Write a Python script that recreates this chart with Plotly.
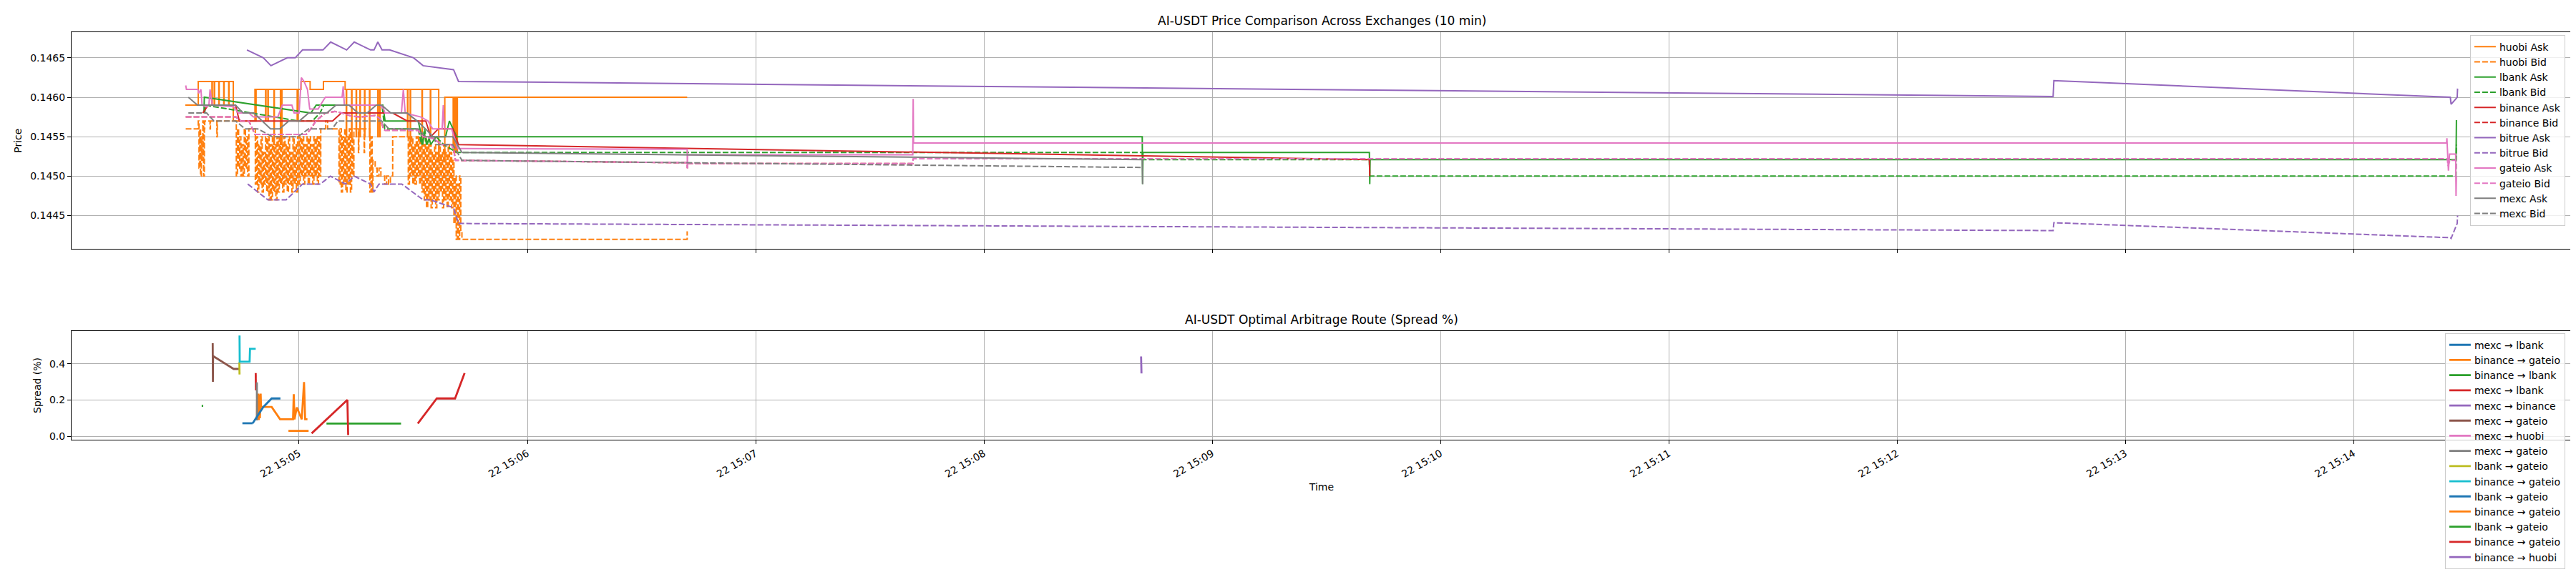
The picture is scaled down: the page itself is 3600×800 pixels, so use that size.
import pandas as pd
import plotly.graph_objects as go

BASE = pd.Timestamp("2025-06-22 15:05:00")

# ---------------- price data (seconds relative to 15:05:00, price) ----------------
huobi_ask_t = [-29.9, -26.6, -26.5, -23.0, -22.9, -22.8, -22.4, -22.3, -22.2, -21.2, -21.1, -21.0,
               -19.9, -19.8, -19.7, -18.6, -18.5, -18.4, -17.5, -17.3, -11.7, -11.6, -11.4, -11.3,
               -8.9, -8.8, -8.7, -8.3, -8.2, -8.1, -6.7, -6.6, -6.5, -5.0, -4.9, -4.8, -4.6, -4.5,
               -0.6, -0.5, -0.3, 0.4, 0.5, 2.8, 2.9, 6.3, 6.4, 12.0, 12.1,
               12.3, 12.4, 12.5, 13.7, 13.8, 13.9, 14.9, 15.0, 15.1, 15.9, 16.0, 16.1, 17.1, 17.2, 17.3,
               18.4, 18.5, 18.6, 20.6, 20.7, 20.8, 21.1, 21.2, 21.3, 28.4, 28.5, 28.6, 29.1, 29.2, 29.3,
               32.2, 32.3, 32.4, 34.4, 34.5, 34.6, 36.6, 36.7, 38.2, 38.3,
               40.4, 40.5, 40.6, 40.7, 40.8, 40.9, 41.0, 41.1, 41.2, 41.3, 41.4, 41.5, 41.6, 41.7, 102.0]
huobi_ask_p = [0.1459, 0.1459, 0.1462, 0.1462, 0.1459, 0.1462, 0.1462, 0.1459, 0.1462, 0.1462, 0.1459, 0.1462,
               0.1462, 0.1459, 0.1462, 0.1462, 0.1459, 0.1462, 0.1462, 0.1457, 0.1457, 0.1461, 0.1457, 0.1461,
               0.1461, 0.1457, 0.1461, 0.1461, 0.1457, 0.1461, 0.1461, 0.1454, 0.1461, 0.1461, 0.1454, 0.1461, 0.1454, 0.1461,
               0.1461, 0.1457, 0.1461, 0.1461, 0.1462, 0.1462, 0.1461, 0.1461, 0.1462, 0.1462, 0.1461,
               0.1461, 0.1455, 0.1461, 0.1461, 0.1455, 0.1461, 0.1461, 0.1455, 0.1461, 0.1461, 0.1455, 0.1461, 0.1461, 0.1455, 0.1461,
               0.1461, 0.1455, 0.1461, 0.1461, 0.1455, 0.1461, 0.1461, 0.1455, 0.1461, 0.1461, 0.1455, 0.1461, 0.1461, 0.1454, 0.1461,
               0.1461, 0.1455, 0.1461, 0.1461, 0.1455, 0.1461, 0.1461, 0.1452, 0.1452, 0.1460,
               0.1460, 0.1454, 0.1460, 0.1453, 0.1460, 0.1454, 0.1460, 0.1453, 0.1460, 0.1454, 0.1460, 0.1453, 0.1460, 0.1460, 0.1460]

huobi_bid_t = [-29.8, -26.6, -26.5, -26.3, -26.1, -25.9, -25.7, -25.5, -25.3, -25.1, -24.9, -24.8,
               -23.5, -23.4, -23.3, -21.7, -21.6, -21.5, -16.7,
               -16.5, -16.2, -15.9, -15.6, -15.3, -15.0, -14.7, -14.4, -14.1, -13.8, -13.5, -13.2, -11.7,
               -11.5, -11.2, -10.9, -10.6, -10.3, -10.0, -9.7, -9.4, -9.1, -8.8, -8.5, -8.2, -7.9, -7.6,
               -7.3, -7.0, -6.7, -6.4, -6.1, -5.8, -5.5, -5.2, -4.9, -4.6, -4.3, -4.0, -3.7, -3.4, -3.1,
               -2.8, -2.5, -2.2, -1.9, -1.6, -1.3, -1.0, -0.7, -0.4,
               0.0, 0.3, 0.6, 0.9, 1.2, 1.5, 1.8, 2.1, 2.4, 2.7, 3.0, 3.3, 3.6, 3.9, 4.2, 4.5, 4.8, 5.1, 5.4, 5.7,
               7.0, 7.5, 10.2,
               10.5, 10.8, 11.1, 11.4, 11.7, 12.0, 12.3, 12.6, 12.9, 13.2, 13.5, 13.8, 14.1, 14.4,
               15.5, 15.6, 15.7, 17.0, 17.1, 17.2, 18.4, 18.6, 18.9, 19.2, 19.4,
               20.0, 20.5, 21.0, 21.5, 22.0, 22.5, 23.0, 23.5, 24.0, 24.4, 24.6, 28.4,
               28.7, 29.0, 29.3, 29.6, 29.9, 30.2, 30.5, 30.8, 31.1, 31.4, 31.7, 32.0, 32.3, 32.6, 32.9, 33.2, 33.5, 33.8,
               34.1, 34.4, 34.7, 35.0, 35.3, 35.6, 35.9, 36.2, 36.5, 36.8, 37.1, 37.4, 37.7, 38.0, 38.3, 38.6,
               38.9, 39.2, 39.5, 39.8, 40.1, 40.4,
               40.7, 41.0, 41.3, 41.6, 41.9, 42.2, 42.5, 42.8, 43.3, 101.8, 102.0]
huobi_bid_p = [0.1456, 0.1456, 0.1457, 0.1451, 0.1456, 0.1450, 0.1455, 0.1452, 0.1457, 0.1450, 0.1456, 0.1457,
               0.1457, 0.1456, 0.1457, 0.1457, 0.1455, 0.1457, 0.1457,
               0.1450, 0.1456, 0.1451, 0.1455, 0.1450, 0.1454, 0.1450, 0.1456, 0.1451, 0.1455, 0.1450, 0.1456, 0.1456,
               0.1449, 0.1455, 0.1448, 0.1454, 0.1449, 0.1455, 0.1448, 0.1453, 0.1449, 0.1455, 0.1448, 0.1455, 0.1447, 0.1454,
               0.1447, 0.1455, 0.1448, 0.1454, 0.1447, 0.1455, 0.1448, 0.1455, 0.1449, 0.1454, 0.1448, 0.1455, 0.1449, 0.1454, 0.1448,
               0.1455, 0.1449, 0.1453, 0.1448, 0.1455, 0.1449, 0.1454, 0.1448, 0.1455,
               0.1449, 0.1455, 0.1450, 0.1455, 0.1449, 0.1454, 0.1450, 0.1455, 0.1449, 0.1455, 0.1450, 0.1454, 0.1449, 0.1455, 0.1450, 0.1455, 0.1449, 0.1455, 0.1450, 0.1456,
               0.1457, 0.1456, 0.1456,
               0.1449, 0.1456, 0.1448, 0.1455, 0.1449, 0.1456, 0.1448, 0.1455, 0.1449, 0.1456, 0.1448, 0.1455, 0.1450, 0.1456,
               0.1456, 0.1453, 0.1456, 0.1456, 0.1453, 0.1456, 0.1456, 0.1448, 0.1455, 0.1448, 0.1452,
               0.1451, 0.1450, 0.1451, 0.1450, 0.1450, 0.1449, 0.1450, 0.1449, 0.1450, 0.1450, 0.1455, 0.1455,
               0.1449, 0.1455, 0.1450, 0.1455, 0.1449, 0.1454, 0.1449, 0.1455, 0.1450, 0.1455, 0.1449, 0.1455, 0.1448, 0.1454, 0.1447, 0.1455, 0.1446, 0.1454,
               0.1447, 0.1454, 0.1446, 0.1453, 0.1447, 0.1454, 0.1446, 0.1453, 0.1447, 0.1454, 0.1448, 0.1453, 0.1446, 0.1454, 0.1447, 0.1453,
               0.1446, 0.1454, 0.1447, 0.1453, 0.1446, 0.1452,
               0.1444, 0.1450, 0.1442, 0.1449, 0.1442, 0.1450, 0.1443, 0.1442, 0.1442, 0.1442, 0.1443]

lbank_ask_t = [-25.0, -24.9, 3.1, 4.5, 22.0, 22.6, 31.3, 32.0, 32.5, 32.9, 33.5, 34.2, 34.6, 36.0, 38.5, 39.5, 41.4,
               221.6, 221.7, 221.8, 281.3, 281.4, 281.5, 566.4, 566.9, 567.0]
lbank_ask_p = [0.1458, 0.1460, 0.1458, 0.1459, 0.1459, 0.1457, 0.1457, 0.14555, 0.1454, 0.14555, 0.1454, 0.14548, 0.1454,
               0.1455, 0.1455, 0.1457, 0.1455,
               0.1455, 0.1449, 0.1453, 0.1453, 0.1449, 0.14521, 0.14521, 0.14521, 0.14571]
lbank_bid_t = [-24.8, -24.6, -0.3, 3.5, 5.5, 6.5, 21.8, 22.5, 31.3, 32.2, 33.0, 33.6, 34.5, 36.0, 38.0, 41.5,
               221.6, 221.7, 281.3, 281.4, 566.4, 566.9, 567.0]
lbank_bid_p = [0.1458, 0.1459, 0.1457, 0.1457, 0.1458, 0.1459, 0.1459, 0.1456, 0.1456, 0.1454, 0.1456, 0.1454, 0.1455,
               0.1455, 0.1454, 0.1453,
               0.1453, 0.14521, 0.14521, 0.1450, 0.1450, 0.1450, 0.1454]

binance_ask_t = [-25.3, -23.9, -16.7, -15.7, 8.8, 11.1, 24.6, 28.4, 33.3, 34.6, 36.6, 40.4, 41.9, 281.3, 281.4]
binance_ask_p = [0.1458, 0.1459, 0.1459, 0.1457, 0.1457, 0.1458, 0.1458, 0.1457, 0.1457, 0.1455, 0.1456, 0.1456,
                 0.1454, 0.14521, 0.1450]

gateio_ask_t = [-29.8, -29.6, -26.6, -26.4, -25.8, -25.5, -24.3, -23.7, -23.4, -22.8, -17.2, -16.0, -13.2, -12.0,
                -5.6, -4.4, -1.9, -1.3, 0.0, 0.6, 1.3, 2.2, 2.8, 5.0, 5.6, 6.9, 10.3, 11.3, 11.6, 11.9,
                21.3, 22.2, 22.6, 26.9, 27.4, 27.9, 32.0, 33.9, 35.1, 37.6, 37.9, 38.2, 40.1, 40.7, 41.7, 43.0,
                102.0, 102.05, 102.1, 161.3, 161.4, 161.5, 564.4, 564.5, 564.9, 565.2, 566.8, 566.9, 567.0]
gateio_ask_p = [0.14615, 0.1461, 0.1461, 0.14605, 0.1461, 0.1459, 0.14588, 0.1459, 0.1461, 0.1459, 0.14588, 0.1458,
                0.1458, 0.14575, 0.14575, 0.1459, 0.1459, 0.1458, 0.1458, 0.14625, 0.1462, 0.1461, 0.14585, 0.14585,
                0.1459, 0.1460, 0.1460, 0.1460, 0.14614, 0.1459, 0.1459, 0.14585, 0.1458, 0.1458, 0.1461, 0.1458,
                0.14575, 0.1457, 0.1456, 0.1456, 0.1459, 0.1456, 0.1456, 0.1455, 0.14535, 0.14535,
                0.14534, 0.1451, 0.14527, 0.14527, 0.14598, 0.14542, 0.14542, 0.14548, 0.14507, 0.14528, 0.14528,
                0.14475, 0.1450]
gateio_bid_t = [-29.8, -16.6, -15.3, -13.2, -11.6, 1.9, 3.1, 4.4, 6.9, 9.4, 11.3, 12.5, 13.8, 16.3, 20.0, 21.3,
                22.2, 22.6, 28.2, 31.3, 32.6, 35.1, 37.6, 40.1, 40.7, 41.1, 102.0, 102.05, 102.1, 161.3, 161.4,
                564.6, 564.8, 565.3, 566.8, 567.0]
gateio_bid_p = [0.14575, 0.14575, 0.1457, 0.1457, 0.14553, 0.14553, 0.1456, 0.1457, 0.1458, 0.14582, 0.1458,
                0.14578, 0.14576, 0.14575, 0.14577, 0.14573, 0.1456, 0.14558, 0.14558, 0.14558, 0.1455, 0.14548,
                0.1454, 0.1454, 0.14532, 0.1452, 0.14517, 0.1451, 0.14516, 0.14516, 0.14522,
                0.14522, 0.14513, 0.1452, 0.1452, 0.1451]

# binance bid runs underneath the gateio bid line (not visible separately)
binance_bid_t = gateio_bid_t[:31]
binance_bid_p = gateio_bid_p[:31]

bitrue_ask_t = [-13.7, -9.4, -7.4, -3.1, -1.0, 0.9, 6.3, 8.3, 12.5, 14.5, 18.8, 19.7, 20.7, 21.8, 23.8, 30.1,
                32.6, 40.6, 41.9, 461.0, 461.2, 565.4, 565.6, 567.2, 567.3]
bitrue_ask_p = [0.1466, 0.1465, 0.1464, 0.1465, 0.1465, 0.1466, 0.1466, 0.1467, 0.1466, 0.1467, 0.1466, 0.1466,
                0.1467, 0.1466, 0.1466, 0.1465, 0.1464, 0.14635, 0.1462, 0.14601, 0.14621, 0.1460, 0.14591,
                0.1460, 0.14611]
bitrue_bid_t = [-13.5, -8.2, -3.4, 0.9, 5.6, 8.2, 12.2, 14.5, 18.8, 19.7, 21.0, 23.8, 27.0, 32.6, 34.5, 40.6,
                41.9, 461.0, 461.2, 565.4, 565.6, 567.2, 567.3]
bitrue_bid_p = [0.1449, 0.1447, 0.1447, 0.1449, 0.1449, 0.1450, 0.1449, 0.1450, 0.1449, 0.1448, 0.1449, 0.1449,
                0.1449, 0.1447, 0.1447, 0.1446, 0.1444, 0.14431, 0.14441, 0.14422, 0.14421, 0.1444, 0.1445]

mexc_ask_t = [-29.1, -26.7, -16.7, -14.7, -11.9, -7.5, -5.1, -2.7, 0.1, 2.5, 7.3, 9.7, 13.1, 15.5, 17.9, 20.3,
              21.7, 24.1, 28.4, 31.0, 33.2, 35.2, 40.4, 42.8, 221.6, 221.7]
mexc_ask_p = [0.1460, 0.1459, 0.1459, 0.1458, 0.1458, 0.1456, 0.1456, 0.1457, 0.1457, 0.1458, 0.1458, 0.1459,
              0.1459, 0.1458, 0.1458, 0.1459, 0.1459, 0.1458, 0.1458, 0.1457, 0.1456, 0.1455, 0.1455, 0.1453,
              0.14521, 0.1449]
mexc_bid_t = [-29.1, -24.3, -22.4, -16.7, -14.2, -10.9, -7.0, -0.3, 2.5, 8.7, 10.2, 21.7, 23.6, 31.3, 33.2,
              35.5, 36.0, 40.4, 42.8, 221.6]
mexc_bid_p = [0.1458, 0.1458, 0.1457, 0.1457, 0.1456, 0.1456, 0.1455, 0.1455, 0.1456, 0.1456, 0.1457, 0.1457,
              0.1456, 0.1456, 0.1455, 0.1455, 0.1454, 0.1454, 0.1452, 0.14511]

# (name, times, prices, colour, dash, line shape)
price_series = [
    ("huobi Ask", huobi_ask_t, huobi_ask_p, "#ff7f0e", "solid", "hv"),
    ("huobi Bid", huobi_bid_t, huobi_bid_p, "#ff7f0e", "dash", "hv"),
    ("lbank Ask", lbank_ask_t, lbank_ask_p, "#2ca02c", "solid", "linear"),
    ("lbank Bid", lbank_bid_t, lbank_bid_p, "#2ca02c", "dash", "linear"),
    ("binance Ask", binance_ask_t, binance_ask_p, "#d62728", "solid", "linear"),
    ("binance Bid", binance_bid_t, binance_bid_p, "#d62728", "dash", "linear"),
    ("bitrue Ask", bitrue_ask_t, bitrue_ask_p, "#9467bd", "solid", "linear"),
    ("bitrue Bid", bitrue_bid_t, bitrue_bid_p, "#9467bd", "dash", "linear"),
    ("gateio Ask", gateio_ask_t, gateio_ask_p, "#e377c2", "solid", "linear"),
    ("gateio Bid", gateio_bid_t, gateio_bid_p, "#e377c2", "dash", "linear"),
    ("mexc Ask", mexc_ask_t, mexc_ask_p, "#7f7f7f", "solid", "linear"),
    ("mexc Bid", mexc_bid_t, mexc_bid_p, "#7f7f7f", "dash", "linear"),
]

# ---------------- spread data (seconds, spread %) ----------------
route_names = ["mexc → lbank", "binance → gateio", "binance → lbank", "mexc → lbank", "mexc → binance",
               "mexc → gateio", "mexc → huobi", "mexc → gateio", "lbank → gateio", "binance → gateio",
               "lbank → gateio", "binance → gateio", "lbank → gateio", "binance → gateio", "binance → huobi"]
route_t = [
    [-14.9, -12.2],
    [-11.1, -11.0, -10.9, -10.7, -10.6, -10.4, -10.3, -10.1, -10.0, -7.2, -5.0, -1.6, -1.4, -1.2, -0.6, 0.7,
     1.3, 1.6, 2.2],
    [-25.6, -25.2],
    [-11.4, -11.35, None, 31.2, 36.2, 41.0, 43.5],
    [221.3, 221.4],
    [-22.7, -22.65, -22.6, -17.2, -15.8],
    [-11.1],
    [-11.1, -11.05],
    [-15.7, -15.65],
    [-15.65, -15.6, -13.0, -12.9, -11.4],
    [-12.2, -11.3, -9.4, -7.2, -4.9],
    [-2.8, 2.5],
    [7.2, 26.8],
    [3.3, 12.7, 12.9],
    [0.0],
]
route_v = [
    [0.072, 0.072],
    [0.09, 0.236, 0.09, 0.236, 0.09, 0.23, 0.10, 0.236, 0.162, 0.162, 0.094, 0.094, 0.233, 0.094, 0.16, 0.094,
     0.30, 0.094, 0.094],
    [0.168, 0.168],
    [0.349, 0.254, None, 0.07, 0.209, 0.209, 0.349],
    [0.441, 0.347],
    [0.514, 0.301, 0.443, 0.372, 0.372],
    [0.2],
    [0.298, 0.088],
    [0.409, 0.341],
    [0.557, 0.412, 0.412, 0.483, 0.483],
    [0.072, 0.10, 0.162, 0.209, 0.209],
    [0.03, 0.03],
    [0.07, 0.07],
    [0.016, 0.201, 0.007],
    [0.1],
]
route_colors = ["#1f77b4", "#ff7f0e", "#2ca02c", "#d62728", "#9467bd", "#8c564b", "#e377c2", "#7f7f7f",
                "#bcbd22", "#17becf", "#1f77b4", "#ff7f0e", "#2ca02c", "#d62728", "#9467bd"]

price_ticks = [0.1445, 0.1450, 0.1455, 0.1460, 0.1465]
spread_ticks = [0.0, 0.2, 0.4]


def to_time(secs):
    return [None if s is None else BASE + pd.Timedelta(seconds=s) for s in secs]


fig = go.Figure()
for name, t, p, color, dash, shape in price_series:
    fig.add_trace(go.Scatter(
        x=to_time(t), y=p, mode="lines", name=name,
        line=dict(color=color, width=2, shape=shape,
                  dash="solid" if dash == "solid" else "8px,3px"),
        xaxis="x", yaxis="y", legend="legend", connectgaps=False))

for name, t, v, color in zip(route_names, route_t, route_v, route_colors):
    fig.add_trace(go.Scatter(
        x=to_time(t), y=v, mode="lines", name=name,
        line=dict(color=color, width=2.8),
        xaxis="x2", yaxis="y2", legend="legend2", connectgaps=False))

FONT = "DejaVu Sans"
xr = [BASE - pd.Timedelta(seconds=59.8), BASE + pd.Timedelta(seconds=597.3)]
axis_common = dict(showline=True, mirror=True, linecolor="black", linewidth=1,
                   showgrid=True, gridcolor="#b0b0b0", gridwidth=1, zeroline=False,
                   ticks="outside", ticklen=5, tickwidth=1, tickcolor="black",
                   tickfont=dict(family=FONT, size=14, color="black"))

top_bottom = (640 - 358) / 603
bot_top = (640 - 479) / 603

fig.update_layout(
    width=3600, height=800,
    margin=dict(l=92, r=14, t=37, b=160),
    paper_bgcolor="white", plot_bgcolor="white",
    font=dict(family=FONT, size=14, color="black"),
    xaxis=dict(domain=[0, 1], anchor="y", range=xr, type="date", matches="x2",
               showticklabels=False, dtick=60000, tick0=BASE, **axis_common),
    yaxis=dict(domain=[top_bottom, 1], anchor="x", range=[0.144075, 0.146825],
               tickvals=price_ticks, tickformat=".4f",
               title=dict(text="Price", font=dict(family=FONT, size=14), standoff=8), **axis_common),
    xaxis2=dict(domain=[0, 1], anchor="y2", range=xr, type="date", dtick=60000, tick0=BASE,
                tickformat="%d %H:%M", tickangle=-30,
                title=dict(text="Time", font=dict(family=FONT, size=14), standoff=6), **axis_common),
    yaxis2=dict(domain=[0, bot_top], anchor="x2", range=[-0.019, 0.582],
                tickvals=spread_ticks, tickformat=".1f",
                title=dict(text="Spread (%)", font=dict(family=FONT, size=14), standoff=8), **axis_common),
    legend=dict(x=0.9974, xanchor="right", y=0.9934, yanchor="top",
                bgcolor="rgba(255,255,255,0.8)", bordercolor="#cccccc", borderwidth=1,
                font=dict(family=FONT, size=14, color="black"), itemwidth=30, tracegroupgap=0),
    legend2=dict(x=0.9974, xanchor="right", y=0.262, yanchor="top",
                 bgcolor="rgba(255,255,255,0.8)", bordercolor="#cccccc", borderwidth=1,
                 font=dict(family=FONT, size=14, color="black"), itemwidth=30, tracegroupgap=0),
    annotations=[
        dict(text="AI-USDT Price Comparison Across Exchanges (10 min)", x=0.5, y=1, xref="paper", yref="paper",
             xanchor="center", yanchor="bottom", yshift=4, showarrow=False,
             font=dict(family=FONT, size=17, color="black")),
        dict(text="AI-USDT Optimal Arbitrage Route (Spread %)", x=0.5, y=bot_top, xref="paper", yref="paper",
             xanchor="center", yanchor="bottom", yshift=4, showarrow=False,
             font=dict(family=FONT, size=17, color="black")),
    ],
)

fig.write_html("out.html")
